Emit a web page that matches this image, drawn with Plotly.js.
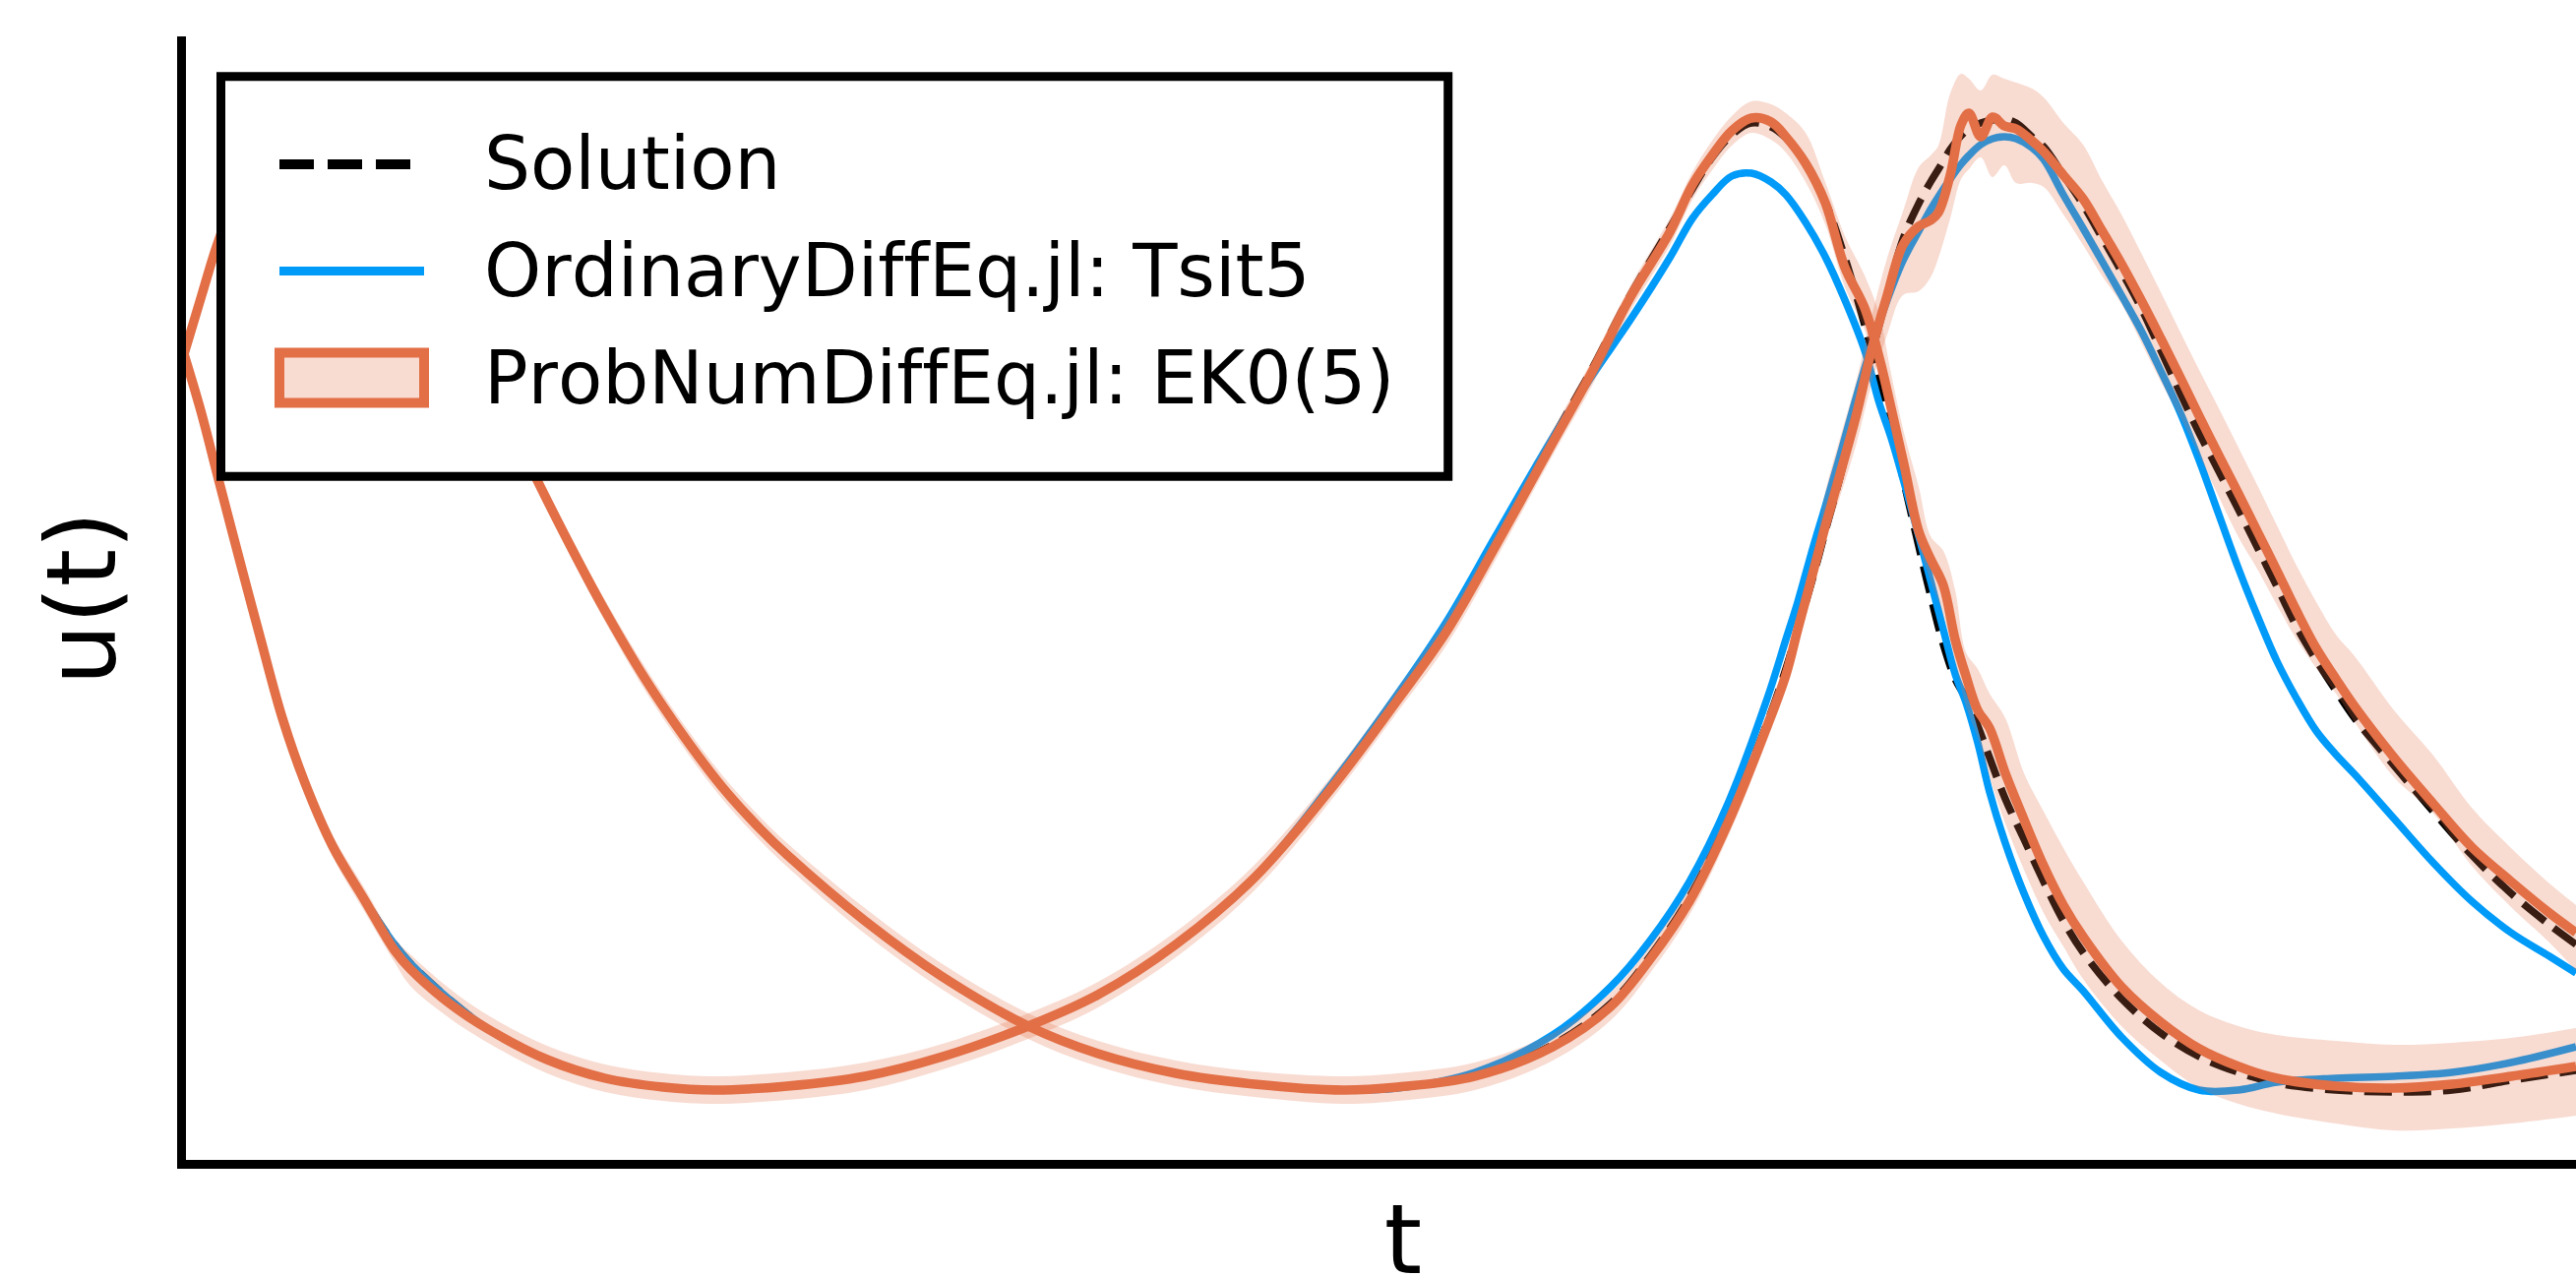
<!DOCTYPE html>
<html>
<head>
<meta charset="utf-8">
<script src="https://cdn.plot.ly/plotly-3.0.1.min.js"></script>
<style>
html, body { margin: 0; padding: 0; background: #ffffff; overflow: hidden; }
#chart { width: 2663px; height: 1330px; }
svg text { font-variant-ligatures: none; font-feature-settings: "liga" 0, "clig" 0, "kern" 0; font-kerning: none; }
</style>
</head>
<body>
<div id="chart"></div>
<script>
// ---------- data ----------
// first component u1(t)
const tA = [0.00, 0.18, 0.35, 0.58, 0.78, 1.00, 1.23, 1.51, 1.83, 2.14, 2.30, 2.70, 3.09, 3.69, 4.28, 4.87, 5.39, 6.13, 6.92, 7.71, 8.58, 9.29, 10.08, 10.88, 11.67, 12.33, 12.83, 13.33, 13.91, 14.31, 14.70, 15.10, 15.33, 15.53, 15.73, 15.93, 16.13, 16.28, 16.48, 16.68, 16.88, 17.08, 17.23, 17.35, 17.48, 17.63, 17.75, 17.88, 18.00, 18.11, 18.23, 18.35, 18.51, 18.70, 18.90, 19.10, 19.30, 19.69, 20.09, 20.48, 20.88, 21.27, 21.87, 22.46, 23.05, 23.65, 24.31];
const solutionA = [8.22, 7.61, 6.95, 6.07, 5.32, 4.52, 3.86, 3.22, 2.68, 2.22, 2.03, 1.66, 1.36, 1.05, 0.86, 0.77, 0.74, 0.78, 0.88, 1.08, 1.39, 1.71, 2.22, 2.90, 3.82, 4.70, 5.44, 6.30, 7.36, 8.07, 8.82, 9.50, 9.90, 10.22, 10.45, 10.57, 10.53, 10.42, 10.17, 9.77, 9.20, 8.52, 7.97, 7.50, 6.92, 6.27, 5.77, 5.27, 4.92, 4.72, 4.44, 4.12, 3.70, 3.29, 2.86, 2.46, 2.14, 1.67, 1.32, 1.08, 0.92, 0.81, 0.74, 0.72, 0.74, 0.84, 0.94];
const tsit5A = [8.22, 7.61, 6.95, 6.07, 5.32, 4.52, 3.86, 3.22, 2.68, 2.22, 2.03, 1.66, 1.36, 1.05, 0.86, 0.77, 0.74, 0.78, 0.88, 1.08, 1.39, 1.71, 2.22, 2.90, 3.86, 4.76, 5.50, 6.37, 7.37, 8.00, 8.57, 9.20, 9.60, 9.84, 10.03, 10.06, 9.97, 9.84, 9.56, 9.21, 8.77, 8.26, 7.72, 7.37, 6.92, 6.37, 5.92, 5.42, 4.97, 4.68, 4.27, 3.77, 3.25, 2.74, 2.30, 1.97, 1.75, 1.28, 0.92, 0.74, 0.74, 0.82, 0.86, 0.88, 0.92, 1.02, 1.18];
const ek0A = [8.22, 7.61, 6.95, 6.07, 5.32, 4.52, 3.86, 3.22, 2.68, 2.16, 1.97, 1.62, 1.36, 1.05, 0.86, 0.77, 0.74, 0.78, 0.88, 1.08, 1.39, 1.71, 2.22, 2.90, 3.82, 4.70, 5.40, 6.27, 7.32, 8.04, 8.80, 9.46, 9.94, 10.24, 10.49, 10.62, 10.58, 10.43, 10.16, 9.76, 9.10, 8.69, 8.18, 7.67, 7.10, 6.42, 6.14, 5.87, 5.32, 4.95, 4.60, 4.42, 3.96, 3.49, 3.02, 2.62, 2.30, 1.79, 1.43, 1.16, 0.98, 0.86, 0.78, 0.76, 0.80, 0.88, 0.98];
const ek0A_upper = [8.31, 7.70, 7.04, 6.16, 5.41, 4.61, 3.96, 3.33, 2.80, 2.28, 2.12, 1.77, 1.50, 1.19, 1.00, 0.91, 0.88, 0.92, 1.02, 1.21, 1.52, 1.84, 2.35, 3.03, 3.94, 4.82, 5.54, 6.39, 7.45, 8.16, 8.92, 9.60, 10.07, 10.39, 10.64, 10.79, 10.76, 10.67, 10.47, 9.97, 9.42, 9.02, 8.62, 8.02, 7.42, 6.87, 6.37, 6.22, 5.82, 5.19, 5.02, 4.77, 4.52, 3.96, 3.57, 3.20, 2.86, 2.26, 1.83, 1.55, 1.39, 1.30, 1.24, 1.20, 1.22, 1.27, 1.37];
const ek0A_lower = [8.13, 7.52, 6.86, 5.98, 5.23, 4.43, 3.76, 3.11, 2.56, 2.04, 1.80, 1.47, 1.22, 0.91, 0.72, 0.63, 0.60, 0.64, 0.74, 0.95, 1.26, 1.58, 2.09, 2.77, 3.70, 4.58, 5.26, 6.13, 7.19, 7.90, 8.66, 9.32, 9.79, 10.09, 10.34, 10.47, 10.40, 10.27, 9.97, 9.54, 8.90, 8.47, 7.97, 7.50, 6.92, 6.27, 5.92, 5.57, 5.10, 4.64, 4.32, 3.92, 3.45, 2.98, 2.54, 2.20, 1.87, 1.39, 1.04, 0.76, 0.60, 0.50, 0.40, 0.33, 0.35, 0.40, 0.48];

// second component u2(t)
const tB = [0.00, 0.18, 0.35, 0.63, 0.93, 1.28, 1.63, 2.13, 2.63, 3.13, 3.53, 4.00, 4.28, 4.68, 5.07, 5.47, 5.86, 6.13, 6.92, 7.71, 8.58, 9.29, 10.08, 10.88, 11.78, 12.33, 13.12, 13.91, 14.50, 14.90, 15.30, 15.69, 16.09, 16.28, 16.40, 16.56, 16.68, 16.83, 17.00, 17.15, 17.31, 17.47, 17.63, 17.75, 17.83, 17.95, 18.06, 18.14, 18.26, 18.38, 18.50, 18.62, 18.78, 18.90, 19.10, 19.30, 19.49, 19.69, 19.89, 20.09, 20.29, 20.48, 20.68, 20.88, 21.08, 21.27, 21.47, 21.67, 21.87, 22.06, 22.46, 22.86, 23.25, 23.65, 24.04, 24.31];
const solutionB = [8.22, 8.82, 9.37, 10.07, 10.47, 10.58, 10.32, 9.57, 8.77, 7.92, 7.06, 6.13, 5.61, 4.93, 4.35, 3.82, 3.39, 3.13, 2.46, 1.89, 1.39, 1.11, 0.91, 0.80, 0.74, 0.77, 0.88, 1.20, 1.62, 2.10, 2.70, 3.49, 4.47, 5.02, 5.42, 5.97, 6.42, 6.97, 7.67, 8.22, 8.82, 9.39, 9.75, 9.97, 10.10, 10.30, 10.44, 10.51, 10.57, 10.60, 10.61, 10.57, 10.43, 10.33, 10.04, 9.74, 9.41, 9.06, 8.69, 8.26, 7.82, 7.42, 7.03, 6.64, 6.24, 5.86, 5.45, 5.11, 4.80, 4.52, 4.04, 3.57, 3.13, 2.74, 2.42, 2.22];
const tsit5B = [8.22, 8.82, 9.37, 10.07, 10.47, 10.58, 10.32, 9.57, 8.77, 7.92, 7.06, 6.13, 5.61, 4.93, 4.35, 3.82, 3.39, 3.13, 2.46, 1.89, 1.39, 1.11, 0.91, 0.80, 0.74, 0.76, 0.92, 1.30, 1.79, 2.26, 2.86, 3.65, 4.72, 5.32, 5.70, 6.27, 6.67, 7.19, 7.80, 8.30, 8.77, 9.17, 9.47, 9.69, 9.82, 10.00, 10.15, 10.24, 10.35, 10.41, 10.43, 10.41, 10.32, 10.20, 9.84, 9.50, 9.17, 8.82, 8.46, 8.05, 7.62, 7.14, 6.59, 6.04, 5.54, 5.10, 4.72, 4.39, 4.15, 3.95, 3.50, 3.05, 2.66, 2.34, 2.10, 1.93];
const ek0B = [8.22, 8.82, 9.37, 10.07, 10.47, 10.58, 10.32, 9.57, 8.77, 7.92, 7.06, 6.13, 5.61, 4.93, 4.35, 3.82, 3.39, 3.13, 2.46, 1.89, 1.39, 1.11, 0.91, 0.80, 0.74, 0.77, 0.88, 1.18, 1.59, 2.07, 2.66, 3.45, 4.44, 4.96, 5.42, 6.02, 6.47, 7.00, 7.62, 8.26, 8.82, 9.33, 9.52, 9.58, 9.66, 10.04, 10.55, 10.67, 10.43, 10.63, 10.54, 10.51, 10.39, 10.28, 10.04, 9.80, 9.48, 9.14, 8.77, 8.38, 7.98, 7.59, 7.19, 6.80, 6.40, 6.02, 5.61, 5.23, 4.92, 4.64, 4.12, 3.65, 3.21, 2.86, 2.54, 2.34];
const ek0B_upper = [8.31, 8.91, 9.46, 10.17, 10.58, 10.70, 10.43, 9.67, 8.87, 8.02, 7.16, 6.23, 5.72, 5.05, 4.47, 3.94, 3.51, 3.25, 2.59, 2.02, 1.52, 1.24, 1.04, 0.93, 0.88, 0.91, 1.02, 1.32, 1.73, 2.21, 2.80, 3.59, 4.58, 5.10, 5.56, 6.17, 6.82, 7.37, 7.97, 8.60, 9.20, 9.67, 10.12, 10.24, 10.34, 10.87, 11.07, 11.02, 10.90, 11.06, 11.02, 10.98, 10.92, 10.83, 10.57, 10.35, 9.99, 9.64, 9.25, 8.85, 8.44, 8.06, 7.67, 7.27, 6.87, 6.48, 6.07, 5.70, 5.37, 5.15, 4.60, 4.14, 3.61, 3.20, 2.84, 2.62];
const ek0B_lower = [8.13, 8.73, 9.28, 9.97, 10.36, 10.46, 10.21, 9.47, 8.67, 7.82, 6.96, 6.03, 5.50, 4.81, 4.23, 3.70, 3.27, 3.01, 2.33, 1.76, 1.26, 0.98, 0.78, 0.67, 0.60, 0.63, 0.74, 1.04, 1.45, 1.93, 2.52, 3.31, 4.30, 4.82, 5.28, 5.82, 6.32, 6.77, 7.32, 7.92, 8.42, 8.82, 8.86, 9.00, 9.20, 9.60, 10.00, 10.10, 10.22, 10.02, 10.14, 9.96, 9.96, 9.92, 9.64, 9.33, 9.02, 8.73, 8.34, 7.94, 7.57, 7.19, 6.77, 6.36, 6.02, 5.67, 5.32, 5.03, 4.77, 4.48, 3.92, 3.55, 3.02, 2.60, 2.24, 1.95];

const seriesNames = ['Solution', 'OrdinaryDiffEq.jl: Tsit5', 'ProbNumDiffEq.jl: EK0(5)'];
const xTitle = 't';
const yTitle = 'u(t)';

// ---------- styling ----------
const W = 2663, H = 1330;
const M = {l: 189, r: 0, t: 37, b: 151};
const PW = W - M.l - M.r, PH = H - M.t - M.b;
const px = x => (x - M.l) / PW;          // pixel -> paper (x)
const py = y => (H - M.b - y) / PH;      // pixel -> paper (y)

const BLACK = '#000000', BLUE = '#009af9', ORANGE = '#e26f46', BAND = 'rgba(226,111,70,0.25)';
const FONT = 'DejaVu Sans';
const SMOOTH = 1.0;

function lineTrace(x, y, color, width, dash, name) {
  return {type: 'scatter', mode: 'lines', x: x, y: y, name: name, showlegend: false, hoverinfo: 'skip',
          line: {color: color, width: width, dash: dash || 'solid', shape: 'spline', smoothing: SMOOTH}};
}
function bandTraces(x, lo, hi, name) {
  return [
    {type: 'scatter', mode: 'lines', x: x, y: lo, name: name + ' lower', showlegend: false, hoverinfo: 'skip',
     line: {width: 0, color: BAND, shape: 'spline', smoothing: SMOOTH}},
    {type: 'scatter', mode: 'lines', x: x, y: hi, name: name + ' upper', showlegend: false, hoverinfo: 'skip',
     fill: 'tonexty', fillcolor: BAND, line: {width: 0, color: BAND, shape: 'spline', smoothing: SMOOTH}}
  ];
}

const data = [
  lineTrace(tA, solutionA, BLACK, 7.5, '28px,12px', seriesNames[0]),
  lineTrace(tB, solutionB, BLACK, 7.5, '28px,12px', seriesNames[0]),
  lineTrace(tA, tsit5A, BLUE, 7.5, 'solid', seriesNames[1]),
  lineTrace(tB, tsit5B, BLUE, 7.5, 'solid', seriesNames[1]),
  ...bandTraces(tA, ek0A_lower, ek0A_upper, seriesNames[2]),
  ...bandTraces(tB, ek0B_lower, ek0B_upper, seriesNames[2]),
  lineTrace(tA, ek0A, ORANGE, 9.5, 'solid', seriesNames[2]),
  lineTrace(tB, ek0B, ORANGE, 9.5, 'solid', seriesNames[2])
];

const axisCommon = {showline: true, linecolor: BLACK, linewidth: 9, showgrid: false, zeroline: false,
                    showticklabels: false, ticks: '', automargin: false, fixedrange: true};

const legendRows = [167, 275.5, 384];
const layout = {
  width: W, height: H, margin: M,
  paper_bgcolor: '#ffffff', plot_bgcolor: '#ffffff',
  showlegend: false,
  font: {family: FONT, color: BLACK},
  xaxis: Object.assign({}, axisCommon, {range: [0.02, 24.76],
    title: {text: xTitle, font: {family: FONT, size: 98, color: BLACK}, standoff: 42}}),
  yaxis: Object.assign({}, axisCommon, {range: [0.03, 11.45],
    title: {text: yTitle, font: {family: FONT, size: 98, color: BLACK}, standoff: 33}}),
  shapes: [
    {type: 'rect', xref: 'paper', yref: 'paper', x0: px(224.5), x1: px(1471.7), y0: py(484.2), y1: py(77.7),
     line: {color: BLACK, width: 9}, fillcolor: '#ffffff', layer: 'above'},
    {type: 'line', xref: 'paper', yref: 'paper', x0: px(284), x1: px(431), y0: py(legendRows[0]), y1: py(legendRows[0]),
     line: {color: BLACK, width: 10, dash: '35px,14px'}, layer: 'above'},
    {type: 'line', xref: 'paper', yref: 'paper', x0: px(284), x1: px(431), y0: py(legendRows[1]), y1: py(legendRows[1]),
     line: {color: BLUE, width: 9}, layer: 'above'},
    {type: 'rect', xref: 'paper', yref: 'paper', x0: px(284), x1: px(431), y0: py(409.5), y1: py(358.5),
     line: {color: ORANGE, width: 10}, fillcolor: BAND, layer: 'above'}
  ],
  annotations: seriesNames.map((name, i) => ({
    xref: 'paper', yref: 'paper', x: px(490), y: py([166, 275, 384][i]),
    xanchor: 'left', yanchor: 'middle', text: name, showarrow: false,
    font: {family: FONT, size: 74, color: BLACK}
  }))
};

Plotly.newPlot('chart', data, layout, {displayModeBar: false, staticPlot: true, responsive: false});
</script>
</body>
</html>
